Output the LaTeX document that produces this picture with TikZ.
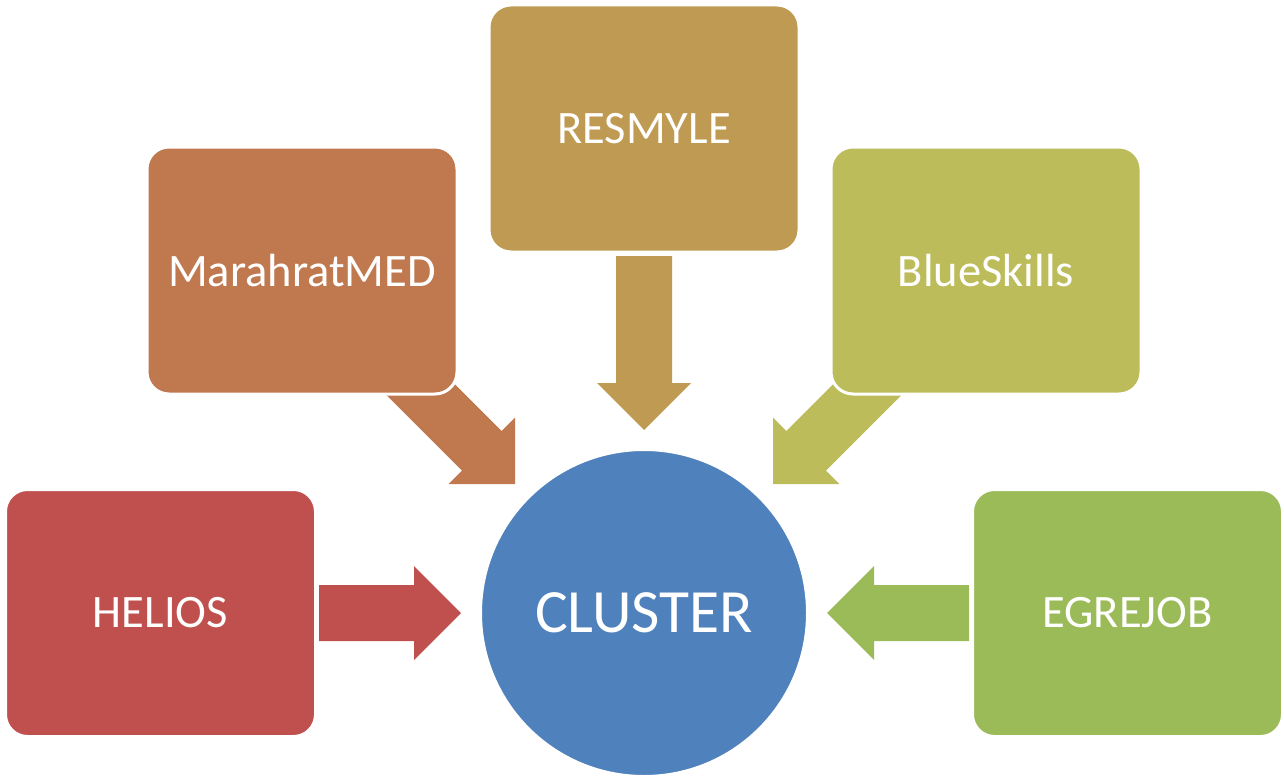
\documentclass[tikz,border=0pt]{standalone}
\usepackage{fontspec}
\setmainfont{Carlito}
\definecolor{cRed}{HTML}{C0504D}
\definecolor{cOrange}{HTML}{C0784F}
\definecolor{cGold}{HTML}{BE9A52}
\definecolor{cOlive}{HTML}{BCBC5A}
\definecolor{cGreen}{HTML}{9BBB59}
\definecolor{cBlue}{HTML}{4F81BD}
\tikzset{
  box/.style={rectangle, rounded corners=22pt, draw=white, line width=3pt,
    minimum width=310pt, minimum height=247pt, text=white, inner sep=0pt,
    font=\fontsize{46.5}{54}\selectfont},
  hub/.style={circle, draw=white, line width=3pt, minimum size=327pt,
    text=white, inner sep=0pt, font=\fontsize{61.5}{72}\selectfont},
}
% #1 tip coordinate, #2 rotation, #3 total length, #4 colour
\newcommand\fatarrow[4]{%
  \begin{scope}[shift={(#1)}, rotate=#2]
    \fill[#4] (0,0) -- (-47,47) -- (-47,28) -- (-#3,28) -- (-#3,-28)
      -- (-47,-28) -- (-47,-47) -- cycle;
  \end{scope}}
\begin{document}
\begin{tikzpicture}[x=1pt, y=-1pt]
\useasboundingbox (0,0) rectangle (1284,776);
\coordinate (tH) at (461,613);
\coordinate (tE) at (827,613);
\coordinate (tR) at (644,430);
\coordinate (tM) at (515,484);
\coordinate (tB) at (773,484);
\fatarrow{tH}{0}{142}{cRed}
\fatarrow{tE}{180}{142}{cGreen}
\fatarrow{tR}{-90}{174}{cGold}
\fatarrow{tM}{-45}{175}{cOrange}
\fatarrow{tB}{-135}{175}{cOlive}
\node[box, fill=cGold] (resmyle) at (644,128.5) {RESMYLE};
\node[box, fill=cOrange] (marahrat) at (302,270.5) {MarahratMED};
\node[box, fill=cOlive] (blue) at (986,270.5) {BlueSkills};
\node[box, fill=cRed] (helios) at (160.5,613) {HELIOS};
\node[box, fill=cGreen] (egre) at (1127.5,613) {EGREJOB};
\node[hub, fill=cBlue] (cluster) at (644,613) {CLUSTER};
\end{tikzpicture}
\end{document}
